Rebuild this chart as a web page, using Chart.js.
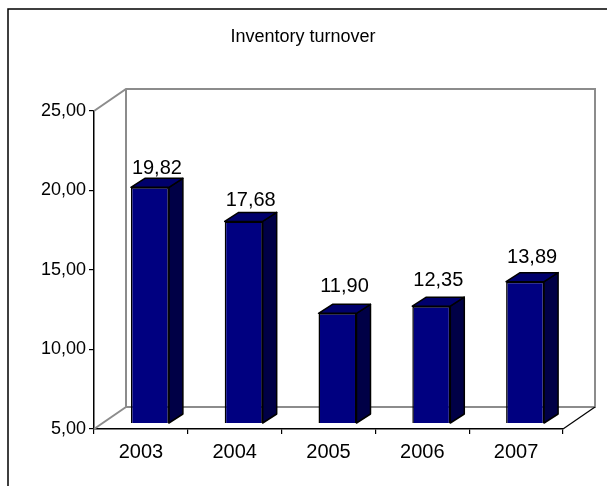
<!DOCTYPE html>
<html>
<head>
<meta charset="utf-8">
<title>Inventory turnover</title>
<script src="https://cdn.jsdelivr.net/npm/chart.js@4/dist/chart.umd.min.js"></script>
<style>
  html, body { margin: 0; padding: 0; background: #fff; }
  canvas { display: block; }
</style>
</head>
<body>
<canvas id="turnover" width="607" height="486"></canvas>
<script>
const years = ["2003", "2004", "2005", "2006", "2007"];
const turnover = [19.82, 17.68, 11.90, 12.35, 13.89];
const yTicks = [5, 10, 15, 20, 25];
const chartTitle = "Inventory turnover";

const FONT = "'Liberation Sans', Arial, sans-serif";
const fmt = (v) => v.toFixed(2).replace(".", ",");

// depth of the floor / back wall, and of each column
const WALL_DX = 32, WALL_DY = 22;
const BAR_SHIFT_X = 9, BAR_SHIFT_Y = 6;
const BAR_DX = 14, BAR_DY = 9;

const excel3d = {
  id: "excel3d",
  beforeDraw(chart) {
    const ctx = chart.ctx;
    ctx.save();
    ctx.fillStyle = "#fff";
    ctx.fillRect(0, 0, chart.width, chart.height);
    // outer frame
    ctx.strokeStyle = "#000";
    ctx.lineWidth = 1.5;
    ctx.strokeRect(8, 9, chart.width + 10, chart.height + 10);
    // title
    ctx.fillStyle = "#000";
    ctx.font = "18px " + FONT;
    ctx.textAlign = "center";
    ctx.textBaseline = "middle";
    ctx.fillText(chartTitle, 303, 37);
    ctx.restore();
  },
  beforeDatasetsDraw(chart) {
    const ctx = chart.ctx;
    const a = chart.chartArea;
    const bl = a.left + WALL_DX, br = a.right + WALL_DX;
    const bt = a.top - WALL_DY, bb = a.bottom - WALL_DY;
    ctx.save();
    ctx.lineWidth = 2;
    ctx.strokeStyle = "#8c8c8c";
    ctx.beginPath();
    ctx.moveTo(a.left, a.top); ctx.lineTo(bl, bt);
    ctx.lineTo(br, bt); ctx.lineTo(br, bb);
    ctx.lineTo(bl, bb); ctx.lineTo(bl, bt);
    ctx.moveTo(a.left, a.bottom); ctx.lineTo(bl, bb);
    ctx.stroke();
    ctx.strokeStyle = "#000";
    ctx.lineWidth = 1.2;
    ctx.beginPath();
    ctx.moveTo(a.right, a.bottom); ctx.lineTo(br, bb);
    ctx.stroke();
    ctx.restore();

    ctx.save();
    ctx.translate(BAR_SHIFT_X, -BAR_SHIFT_Y);
  },
  afterDatasetsDraw(chart) {
    const ctx = chart.ctx;
    const yScale = chart.scales.y;
    const base = yScale.getPixelForValue(yScale.min);
    const meta = chart.getDatasetMeta(0);
    ctx.lineWidth = 1.5;
    ctx.strokeStyle = "#000";
    ctx.lineJoin = "round";
    meta.data.forEach((bar, i) => {
      const w = bar.width;
      const top = yScale.getPixelForValue(turnover[i]);
      const l = bar.x - w / 2, r = bar.x + w / 2;
      // side face
      ctx.fillStyle = "#000046";
      ctx.beginPath();
      ctx.moveTo(r, top);
      ctx.lineTo(r + BAR_DX, top - BAR_DY);
      ctx.lineTo(r + BAR_DX, base - BAR_DY);
      ctx.lineTo(r, base);
      ctx.closePath();
      ctx.fill(); ctx.stroke();
      // top face
      ctx.fillStyle = "#00006c";
      ctx.beginPath();
      ctx.moveTo(l, top);
      ctx.lineTo(l + BAR_DX, top - BAR_DY);
      ctx.lineTo(r + BAR_DX, top - BAR_DY);
      ctx.lineTo(r, top);
      ctx.closePath();
      ctx.fill(); ctx.stroke();
      // value label: shorter columns get a little more room above them
      const gap = 19 - 0.0635 * (base - top);
      ctx.fillStyle = "#000";
      ctx.font = "20px " + FONT;
      ctx.textAlign = "center";
      ctx.textBaseline = "alphabetic";
      ctx.fillText(fmt(turnover[i]), bar.x + BAR_DX / 2, top - BAR_DY - gap);
    });
    ctx.restore();
  }
};

new Chart(document.getElementById("turnover"), {
  type: "bar",
  data: {
    labels: years,
    datasets: [{
      data: turnover,
      backgroundColor: "#000080",
      borderColor: "#000",
      borderWidth: 1.5,
      borderSkipped: false,
      categoryPercentage: 1,
      barPercentage: 0.405
    }]
  },
  options: {
    responsive: false,
    animation: false,
    devicePixelRatio: 1,
    layout: { padding: { top: 111, right: 44, left: 0, bottom: 0 } },
    plugins: {
      legend: { display: false },
      title: { display: false },
      tooltip: { enabled: false }
    },
    scales: {
      x: {
        afterFit(scale) { scale.height = 57; },
        grid: {
          offset: true,
          drawOnChartArea: false,
          drawTicks: true,
          tickLength: 5,
          color: "#000",
          lineWidth: 1.2
        },
        border: { display: true, color: "#000", width: 1.5 },
        ticks: {
          color: "#000",
          padding: 6,
          font: { family: FONT, size: 20 }
        }
      },
      y: {
        min: 5,
        max: 25,
        afterFit(scale) { scale.width = 94; },
        afterBuildTicks(scale) {
          scale.ticks = yTicks.map((v) => ({ value: v }));
        },
        grid: {
          drawOnChartArea: false,
          drawTicks: true,
          tickLength: 5,
          color: "#000",
          lineWidth: 1.2
        },
        border: { display: true, color: "#000", width: 1.5 },
        ticks: {
          color: "#000",
          padding: 3,
          font: { family: FONT, size: 18 },
          callback: (v) => fmt(v)
        }
      }
    }
  },
  plugins: [excel3d]
});
</script>
</body>
</html>
